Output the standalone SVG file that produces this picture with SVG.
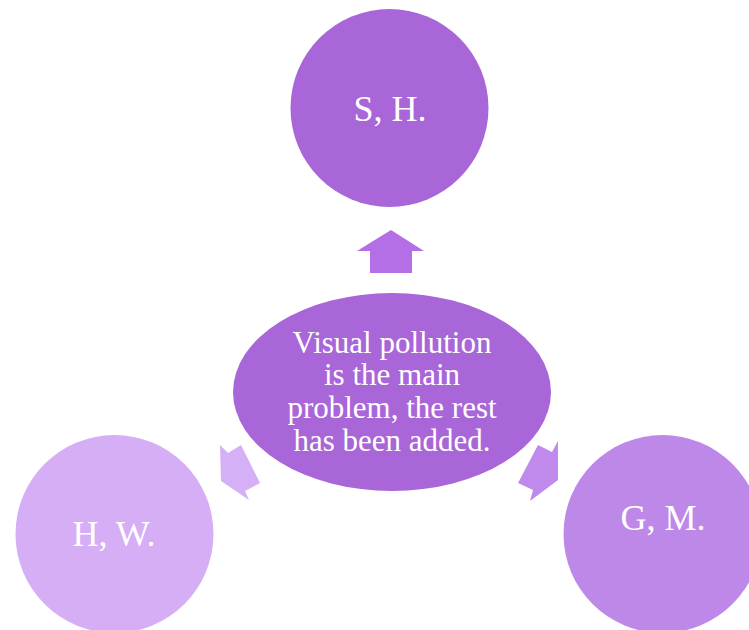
<svg xmlns="http://www.w3.org/2000/svg" width="749" height="630" viewBox="0 0 749 630">
  <style>
    .lbl { font-family: "Liberation Serif", "Times New Roman", serif; fill: #ffffff; text-anchor: middle; }
    .big { font-size: 36px; }
    .main { font-size: 31px; }
  </style>
  <rect width="749" height="630" fill="#ffffff"/>

  <!-- outward arrows from the centre -->
  <g id="connectors">
    <polygon points="391,230 424,251 412,251 412,273 370,273 370,251 357,251" fill="#b46ee6"/>
    <polygon points="221,481 220,445 228,453 241,445 260,483 245,491 249,500" fill="#d5b0f6"/>
    <polygon points="558,480 558,441 552,452 538,445 518,483 533,490 530,501" fill="#c08aec"/>
  </g>

  <g id="center">
    <ellipse cx="392" cy="392" rx="159" ry="99" fill="#a866d8"/>
    <text class="lbl main" x="392" y="353">Visual pollution</text>
    <text class="lbl main" x="392" y="385">is the main</text>
    <text class="lbl main" x="392" y="418">problem, the rest</text>
    <text class="lbl main" x="392" y="451">has been added.</text>
  </g>

  <g id="top">
    <circle cx="389.5" cy="108" r="99" fill="#a866d8"/>
    <text class="lbl big" x="390" y="121">S, H.</text>
  </g>

  <g id="left">
    <circle cx="114.5" cy="534" r="99" fill="#d5aef6"/>
    <text class="lbl big" x="114" y="546">H, W.</text>
  </g>

  <g id="right">
    <circle cx="662.5" cy="534" r="99" fill="#be88e8"/>
    <text class="lbl big" x="663" y="530">G, M.</text>
  </g>
</svg>
